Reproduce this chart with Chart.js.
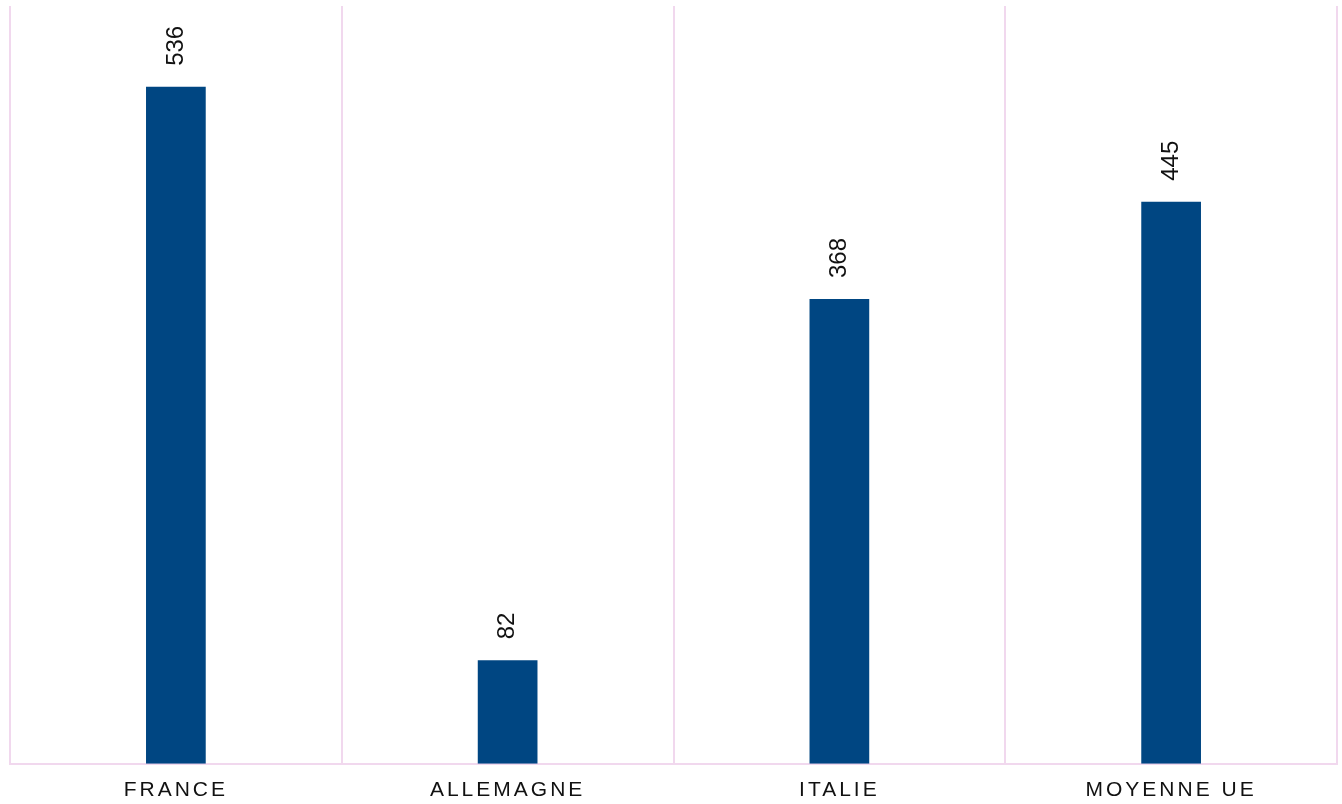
<!DOCTYPE html>
<html lang="fr">
  <head>
    <meta charset="UTF-8" />
    <title>Comparaison</title>
    <script src="https://cdn.jsdelivr.net/npm/chart.js@4.4.1/dist/chart.umd.min.js"></script>
    <style>
      html, body { margin: 0; padding: 0; background: #fff; }
      #wrap { width: 1342px; height: 804px; }
    </style>
  </head>
  <body>
    <div id="wrap"><canvas id="myChart"></canvas></div>
    <script>
      const categories = ["FRANCE", "ALLEMAGNE", "ITALIE", "MOYENNE UE"]
      const values = [536, 82, 368, 445]
      const yMax = 600

      const gridColor = "#f1d8ee"
      const barColor = "#004682"

      // value labels, rotated, above each bar
      const valueLabels = {
        id: "valueLabels",
        afterDatasetsDraw(chart) {
          const ctx = chart.ctx
          const meta = chart.getDatasetMeta(0)
          ctx.save()
          ctx.letterSpacing = "0px"
          ctx.font = "24px 'Liberation Sans', Arial, sans-serif"
          ctx.fillStyle = "#111"
          ctx.textAlign = "left"
          ctx.textBaseline = "middle"
          meta.data.forEach((bar, i) => {
            ctx.save()
            ctx.translate(bar.x, bar.y - 21)
            ctx.rotate(-Math.PI / 2)
            ctx.fillText(String(values[i]), 0, 0)
            ctx.restore()
          })
          ctx.restore()
        },
      }

      const spacedTicks = {
        id: "spacedTicks",
        beforeDraw(chart) {
          chart.ctx.letterSpacing = "3px"
        },
      }

      const ctx = document.getElementById("myChart").getContext("2d")
      const myChart = new Chart(ctx, {
        type: "bar",
        data: {
          labels: categories,
          datasets: [
            {
              data: values,
              backgroundColor: barColor,
              borderWidth: 0,
              barPercentage: 0.18,
              categoryPercentage: 1,
            },
          ],
        },
        options: {
          responsive: true,
          maintainAspectRatio: false,
          animation: false,
          layout: { padding: { left: 10, right: 5, top: 6, bottom: -13 } },
          plugins: {
            legend: { display: false },
            tooltip: { enabled: false },
          },
          scales: {
            x: {
              grid: {
                color: gridColor,
                lineWidth: 2,
                offset: true,
                drawTicks: false,
              },
              border: { color: gridColor, width: 2 },
              ticks: {
                color: "#111",
                padding: 14,
                font: { family: "'Liberation Sans', Arial, sans-serif", size: 21 },
              },
            },
            y: {
              display: false,
              min: 0,
              max: yMax,
            },
          },
        },
        plugins: [spacedTicks, valueLabels],
      })
    </script>
  </body>
</html>
